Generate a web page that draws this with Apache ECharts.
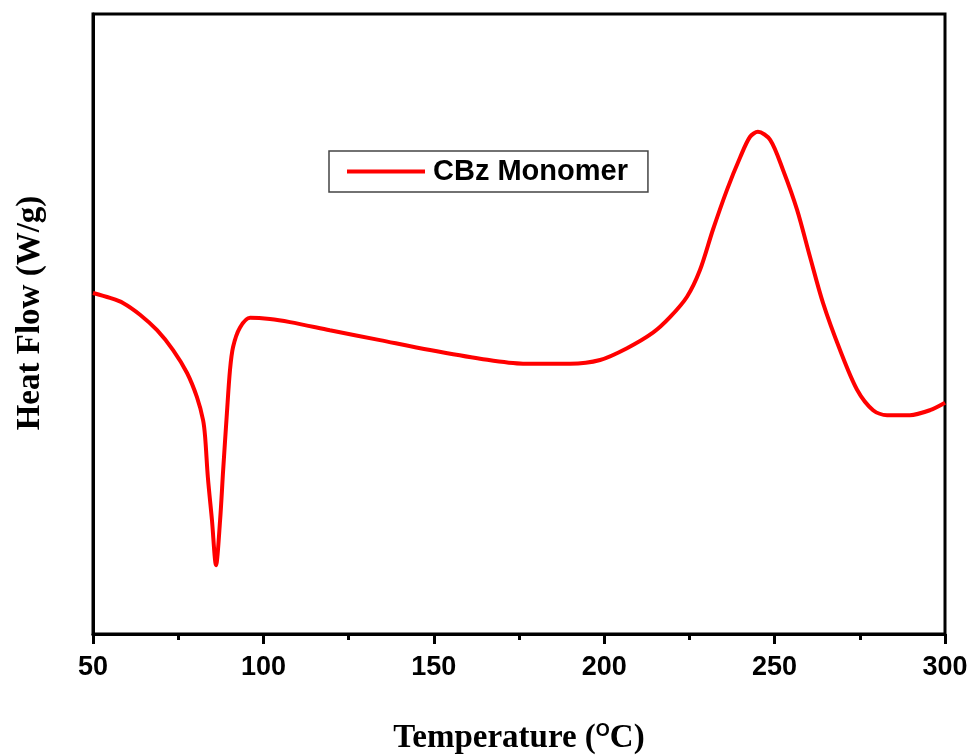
<!DOCTYPE html>
<html>
<head>
<meta charset="utf-8">
<script src="https://cdn.jsdelivr.net/npm/echarts@6/dist/echarts.min.js"></script>
<style>
  html, body { margin: 0; padding: 0; background: #fff; }
  #chart { width: 972px; height: 756px; }
</style>
</head>
<body>
<div id="chart"></div>
<script>
// DSC trace of the CBz monomer: temperature (°C) vs heat flow (arbitrary units)
const temperature = [
  50, 55.0, 58.8, 63.8, 68.8, 73.5, 77.6, 80.5, 82.3, 82.9, 83.7, 84.9, 86.1,
  87.3, 88.2, 89.3, 90.2, 91.1, 93.1, 96.1, 101.9, 107.8, 119.5, 134.2, 148.9,
  163.6, 176.2, 190.0, 198.8, 206.7, 214.3, 219.3, 224.3, 228.1, 231.9, 236.0,
  239.9, 242.8, 245.1, 248.7, 252.5, 256.6, 260.4, 264.2, 269.2, 274.2, 278.9,
  283.0, 289.7, 295.6, 300
];
const heatFlow = [
  55.0, 54.2, 53.4, 51.5, 49.0, 45.8, 42.1, 38.2, 34.5, 31.8, 25.3, 18.4, 11.1,
  18.4, 26.5, 35.7, 42.6, 46.3, 49.4, 51.0, 50.8, 50.3, 49.0, 47.4, 45.8,
  44.4, 43.6, 43.6, 44.2, 46.1, 48.6, 51.1, 54.4, 58.7, 65.2, 71.6,
  76.9, 80.2, 81.0, 79.7, 74.8, 68.4, 60.8, 53.4, 45.8, 39.4, 36.1,
  35.3, 35.3, 36.1, 37.3
];
const xTicks = [50, 100, 150, 200, 250, 300];
const seriesName = 'CBz Monomer';

const points = temperature.map((t, i) => [t, heatFlow[i]]);

const chart = echarts.init(document.getElementById('chart'));
chart.setOption({
  animation: false,
  backgroundColor: '#ffffff',
  grid: {
    left: 93, right: 27, top: 14, bottom: 122,
    outerBoundsMode: 'none',
    containLabel: false,
    show: true, borderColor: '#000', borderWidth: 3, backgroundColor: 'transparent'
  },
  legend: {
    left: 329, top: 151,
    padding: [6, 20, 6, 18],
    borderColor: '#444', borderWidth: 1.5, borderRadius: 0,
    backgroundColor: '#fff',
    itemWidth: 78, itemHeight: 4,
    icon: 'rect',
    textStyle: { fontFamily: 'Liberation Sans, Arial', fontWeight: 'bold', fontSize: 29, color: '#000', padding: [0, 0, 0, 3] },
    data: [seriesName]
  },
  xAxis: {
    type: 'value',
    min: xTicks[0], max: xTicks[xTicks.length - 1], interval: 50,
    name: 'Temperature ({sup|O}C)',
    nameLocation: 'middle', nameGap: 88,
    nameTextStyle: {
      fontFamily: 'Liberation Serif, Times New Roman', fontWeight: 'bold', fontSize: 33, color: '#000',
      rich: {
        sup: { fontFamily: 'Liberation Sans, Arial', fontWeight: 'bold', fontSize: 18, verticalAlign: 'top', padding: [0, 0, 14, 0], color: '#000' }
      }
    },
    axisLine: { show: true, lineStyle: { color: '#000', width: 3 } },
    axisTick: { show: true, inside: false, length: 10, lineStyle: { color: '#000', width: 3 } },
    minorTick: { show: true, splitNumber: 2, length: 6, lineStyle: { color: '#000', width: 3 } },
    axisLabel: { margin: 20, fontFamily: 'Liberation Sans, Arial', fontWeight: 'bold', fontSize: 27, color: '#000' },
    splitLine: { show: false }
  },
  yAxis: {
    type: 'value', min: 0, max: 100,
    name: 'Heat Flow (W/g)',
    nameLocation: 'middle', nameGap: 46,
    nameTextStyle: {
      fontFamily: 'Liberation Serif, Times New Roman', fontWeight: 'bold', fontSize: 33, color: '#000',
      padding: [0, 0, 0, 22]
    },
    axisLine: { show: true, lineStyle: { color: '#000', width: 3 } },
    axisTick: { show: false },
    axisLabel: { show: false },
    splitLine: { show: false }
  },
  series: [{
    name: seriesName,
    type: 'line',
    data: points,
    smooth: 0.3,
    showSymbol: false,
    lineStyle: { color: '#ff0000', width: 4 },
    itemStyle: { color: '#ff0000' }
  }]
});
</script>
</body>
</html>
